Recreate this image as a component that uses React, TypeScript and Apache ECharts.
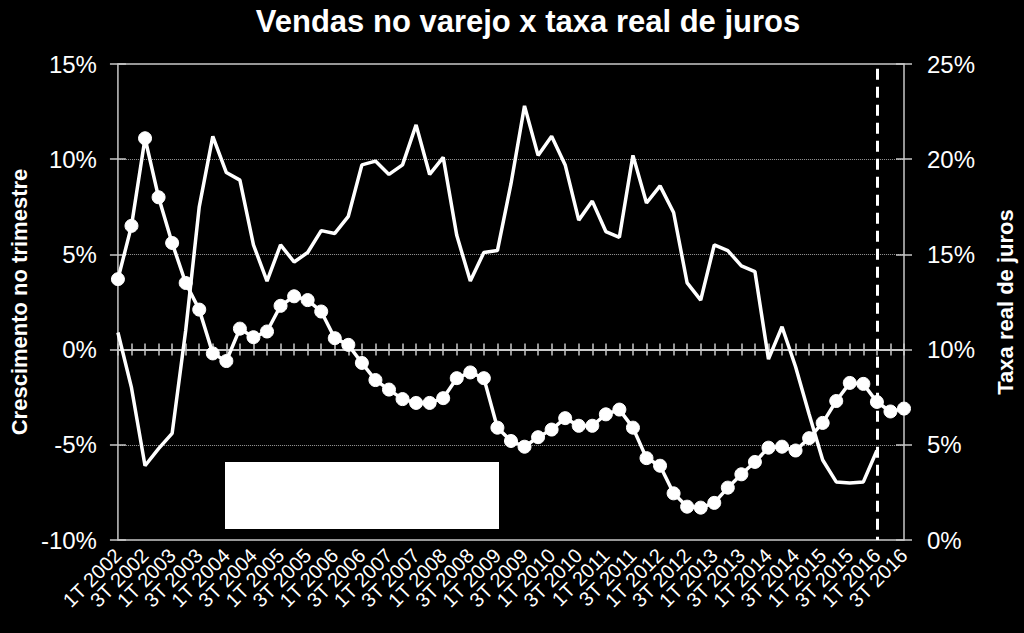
import React, { useEffect, useRef } from "react";
import * as echarts from "echarts";

const categories = [
  "1T 2002", "2T 2002", "3T 2002", "4T 2002",
  "1T 2003", "2T 2003", "3T 2003", "4T 2003",
  "1T 2004", "2T 2004", "3T 2004", "4T 2004",
  "1T 2005", "2T 2005", "3T 2005", "4T 2005",
  "1T 2006", "2T 2006", "3T 2006", "4T 2006",
  "1T 2007", "2T 2007", "3T 2007", "4T 2007",
  "1T 2008", "2T 2008", "3T 2008", "4T 2008",
  "1T 2009", "2T 2009", "3T 2009", "4T 2009",
  "1T 2010", "2T 2010", "3T 2010", "4T 2010",
  "1T 2011", "2T 2011", "3T 2011", "4T 2011",
  "1T 2012", "2T 2012", "3T 2012", "4T 2012",
  "1T 2013", "2T 2013", "3T 2013", "4T 2013",
  "1T 2014", "2T 2014", "3T 2014", "4T 2014",
  "1T 2015", "2T 2015", "3T 2015", "4T 2015",
  "1T 2016", "2T 2016", "3T 2016",
];

// Crescimento no trimestre (%), left axis
const vendas: (number | null)[] = [
  0.9, -2.0, -6.1, -5.2, -4.4, 1.0, 7.5, 11.2, 9.3, 8.9,
  5.5, 3.6, 5.5, 4.6, 5.1, 6.25, 6.1, 7.0, 9.7, 9.9,
  9.2, 9.7, 11.8, 9.2, 10.1, 6.0, 3.6, 5.1, 5.2, 8.7,
  12.8, 10.2, 11.2, 9.7, 6.8, 7.8, 6.2, 5.9, 10.2, 7.7,
  8.6, 7.2, 3.5, 2.6, 5.5, 5.2, 4.4, 4.1, -0.5, 1.2,
  -0.9, -3.4, -5.8, -6.95, -7.0, -6.95, -5.3, null, null,
];

// Taxa real de juros (%), right axis
const juros = [
  13.7, 16.5, 21.1, 18.0, 15.6, 13.5, 12.1, 9.8, 9.4, 11.1,
  10.65, 10.95, 12.3, 12.8, 12.6, 12.0, 10.6, 10.25, 9.3, 8.4,
  7.9, 7.4, 7.2, 7.2, 7.45, 8.5, 8.8, 8.5, 5.9, 5.2,
  4.9, 5.4, 5.8, 6.4, 6.0, 6.0, 6.6, 6.85, 5.9, 4.3,
  3.9, 2.45, 1.75, 1.7, 1.95, 2.75, 3.45, 4.1, 4.85, 4.9,
  4.7, 5.35, 6.15, 7.3, 8.25, 8.2, 7.25, 6.75, 6.9,
];

const dashedAt = "1T 2016";

const FONT = "'Liberation Sans', Arial, sans-serif";
const FRAME = "#c8c8c8";

export default function App() {
  const ref = useRef<HTMLDivElement>(null);
  useEffect(() => {
    document.body.style.margin = "0";
    const chart = echarts.init(ref.current!, null, { renderer: "svg" });
    const catAxisBase = {
      type: "category" as const,
      data: categories,
      boundaryGap: false,
    };
    const labelStyle = {
      rotate: 45,
      color: "#fff",
      fontSize: 20,
      fontFamily: FONT,
      margin: 12,
      hideOverlap: false,
    };
    const lastIdx = categories.length - 1;
    chart.setOption({
      animation: false,
      backgroundColor: "#000",
      textStyle: { fontFamily: FONT },
      title: {
        text: "Vendas no varejo x taxa real de juros",
        left: 523,
        textAlign: "center",
        top: 1,
        textStyle: { color: "#fff", fontSize: 31, fontWeight: "bold", fontFamily: FONT },
      },
      grid: {
        left: 115,
        right: 119,
        top: 64,
        bottom: 93,
        show: true,
        borderColor: FRAME,
        borderWidth: 1.5,
        backgroundColor: "transparent",
      },
      xAxis: [
        {
          ...catAxisBase,
          position: "bottom",
          axisLine: { show: false, onZero: false },
          axisTick: { show: false },
          splitLine: { show: false },
          axisLabel: {
            ...labelStyle,
            interval: 1,
            showMinLabel: false,
            showMaxLabel: false,
          },
        },
        {
          ...catAxisBase,
          position: "bottom",
          axisLine: { show: true, onZero: true, onZeroAxisIndex: 0, lineStyle: { color: FRAME, width: 2 } },
          axisTick: { show: true, interval: 0, length: 6, inside: false, lineStyle: { color: FRAME, width: 1.5 } },
          axisLabel: { show: false },
          splitLine: { show: false },
        },
        {
          ...catAxisBase,
          position: "bottom",
          axisLine: { show: false, onZero: true, onZeroAxisIndex: 0 },
          axisTick: { show: true, interval: 0, length: 6, inside: true, lineStyle: { color: FRAME, width: 1.5 } },
          axisLabel: { show: false },
          splitLine: { show: false },
        },
        {
          ...catAxisBase,
          position: "bottom",
          axisLine: { show: false, onZero: false },
          axisTick: { show: false },
          splitLine: { show: false },
          axisLabel: {
            ...labelStyle,
            interval: (i: number) => i === 0 || i === lastIdx,
            showMinLabel: true,
            showMaxLabel: true,
          },
        },
      ],
      yAxis: [
        {
          type: "value",
          position: "left",
          min: -10,
          max: 15,
          interval: 5,
          name: "Crescimento no trimestre",
          nameLocation: "middle",
          nameGap: 86,
          nameTextStyle: { color: "#fff", fontSize: 22, fontWeight: "bold", fontFamily: FONT },
          axisLine: { show: false },
          axisTick: { show: true, length: 8, lineStyle: { color: FRAME, width: 1.5 } },
          axisLabel: { color: "#fff", fontSize: 24, fontFamily: FONT, margin: 21, formatter: "{value}%" },
          splitLine: { show: true, lineStyle: { color: "#9a9a9a", type: "dotted", width: 1 } },
        },
        {
          type: "value",
          position: "right",
          min: 0,
          max: 25,
          interval: 5,
          name: "Taxa real de juros",
          nameLocation: "middle",
          nameGap: 90,
          nameRotate: 90,
          nameTextStyle: { color: "#fff", fontSize: 22, fontWeight: "bold", fontFamily: FONT },
          axisLine: { show: false },
          axisTick: { show: true, length: 8, lineStyle: { color: FRAME, width: 1.5 } },
          axisLabel: { color: "#fff", fontSize: 24, fontFamily: FONT, margin: 23, formatter: "{value}%" },
          splitLine: { show: false },
        },
        {
          type: "value",
          position: "left",
          min: -10,
          max: 15,
          interval: 5,
          axisLine: { show: false },
          axisTick: { show: true, inside: true, length: 8, lineStyle: { color: FRAME, width: 1.5 } },
          axisLabel: { show: false },
          splitLine: { show: false },
        },
        {
          type: "value",
          position: "right",
          min: 0,
          max: 25,
          interval: 5,
          axisLine: { show: false },
          axisTick: { show: true, inside: true, length: 8, lineStyle: { color: FRAME, width: 1.5 } },
          axisLabel: { show: false },
          splitLine: { show: false },
        },
      ],
      graphic: [
        {
          type: "rect",
          shape: { x: 225, y: 462, width: 274, height: 67 },
          style: { fill: "#fff" },
          z: 100,
        },
      ],
      series: [
        {
          name: "Vendas no varejo",
          type: "line",
          xAxisIndex: 0,
          yAxisIndex: 0,
          data: vendas,
          showSymbol: false,
          symbol: "none",
          lineStyle: { color: "#fff", width: 3.5 },
          itemStyle: { color: "#fff" },
          z: 3,
          markLine: {
            silent: true,
            symbol: "none",
            label: { show: false },
            lineStyle: { color: "#fff", type: [11, 7], width: 3 },
            data: [[{ coord: [dashedAt, 14.75] }, { coord: [dashedAt, -10] }]],
          },
        },
        {
          name: "Taxa real de juros",
          type: "line",
          xAxisIndex: 0,
          yAxisIndex: 1,
          data: juros,
          symbol: "circle",
          symbolSize: 13,
          showSymbol: true,
          showAllSymbol: true,
          lineStyle: { color: "#fff", width: 3.5 },
          itemStyle: { color: "#fff", borderColor: "#fff" },
          z: 4,
        },
      ],
    });
    return () => chart.dispose();
  }, []);
  return (
    <div
      ref={ref}
      style={{ position: "absolute", left: 0, top: 0, width: 1024, height: 633, background: "#000" }}
    />
  );
}
